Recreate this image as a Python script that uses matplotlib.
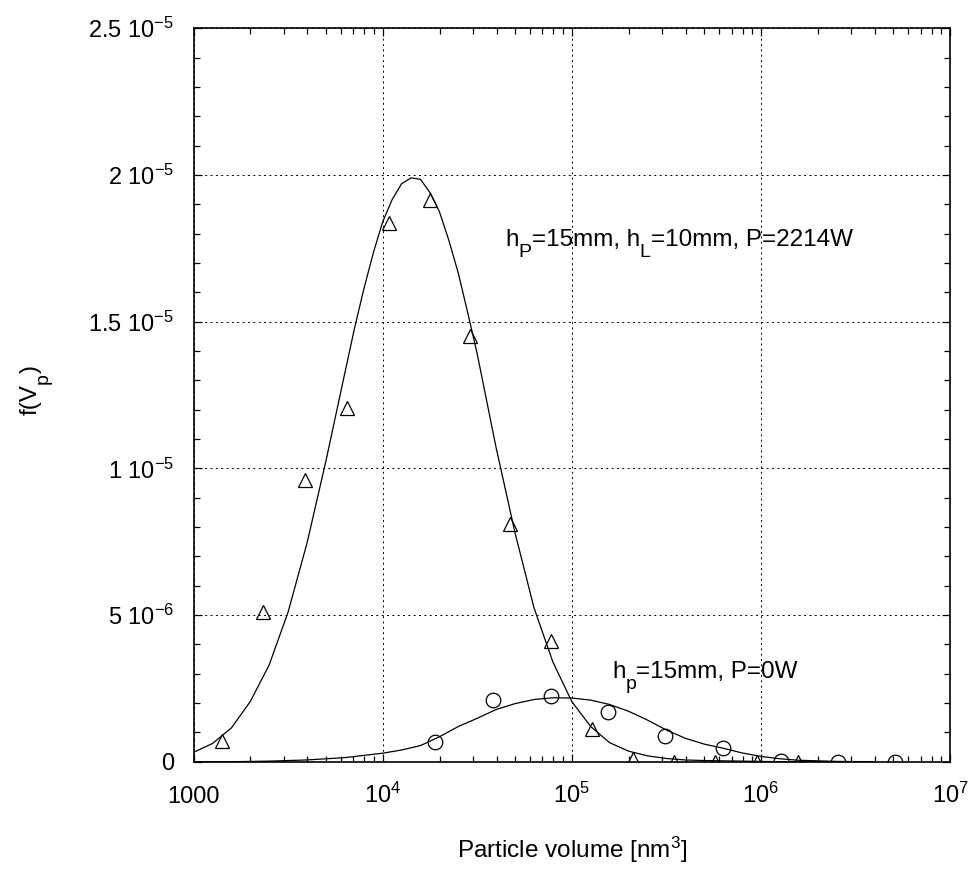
import numpy as np
import matplotlib
matplotlib.use("Agg")
import matplotlib.pyplot as plt
from matplotlib.transforms import offset_copy
from matplotlib.ticker import FixedLocator, LogLocator, MultipleLocator, NullFormatter

plt.rcParams['font.family'] = ['Liberation Sans', 'DejaVu Sans']
plt.rcParams['mathtext.fontset'] = 'custom'
plt.rcParams['mathtext.rm'] = 'Liberation Sans'
plt.rcParams['mathtext.it'] = 'Liberation Sans:italic'
plt.rcParams['mathtext.default'] = 'regular'

# measured points, particle volume [nm^3] and f(Vp) in units of 1e-6
tri_x = [1410, 2320, 3890, 6470, 10740, 17700, 29000, 46900, 77600,
         128000, 210000, 345000, 575000, 950000, 1570000]
tri_y = [0.70, 5.09, 9.6, 12.04, 18.35, 19.15, 14.51, 8.1, 4.12,
         1.12, 0.08, 0.0, 0.0, 0.0, 0.0]

circ_x = [18970, 38300, 77600, 155600, 310000, 628000, 1270000, 2550000, 5100000]
circ_y = [0.68, 2.10, 2.25, 1.68, 0.88, 0.48, 0.03, 0.0, 0.0]

# fitted distribution, P=2214W
tri_fit_x = [1000, 1259, 1585, 1995, 2512, 3162, 3981, 5012, 6310, 7079, 7943,
             8913, 10000, 11220, 12590, 14130, 15850, 17780, 19950, 22390,
             25120, 28180, 31620, 35480, 39810, 50120, 63100, 79430,
             100000, 125900, 158500, 199500, 251200, 316200, 398100, 501200,
             631000, 794300, 1000000, 1259000, 1585000, 2512000, 3981000]
tri_fit = [0.32, 0.62, 1.15, 2.05, 3.3, 5.1, 7.45, 10.25, 13.25, 14.74, 16.1,
           17.33, 18.4, 19.16, 19.7, 19.9, 19.85, 19.4, 18.75, 17.77,
           16.65, 15.3, 13.9, 12.3, 10.7, 7.8, 5.25, 3.4,
           2.05, 1.2, 0.65, 0.36, 0.2, 0.11, 0.06, 0.04,
           0.03, 0.02, 0.01, 0.0, 0.0, 0.0, 0.0]

# fitted distribution, P=0W
circ_fit_x = [1000, 1585, 2512, 3981, 6310, 10000, 12590, 15850, 19950, 25120,
              31620, 39810, 50120, 63100, 79430, 100000, 125900, 158500, 199500,
              251200, 316200, 398100, 501200, 631000, 794300, 1000000,
              1259000, 1585000, 2512000, 3981000]
circ_fit = [0.0, 0.0, 0.02, 0.06, 0.14, 0.29, 0.4, 0.55, 0.85, 1.2,
            1.48, 1.78, 1.98, 2.12, 2.18, 2.17, 2.1, 1.95, 1.72,
            1.42, 1.08, 0.8, 0.6, 0.46, 0.3, 0.18,
            0.1, 0.05, 0.01, 0.0]

y_ticks = [0, 5e-6, 1e-5, 1.5e-5, 2e-5, 2.5e-5]
y_ticklabels = ['0', r'5 10$^{-6}$', r'1 10$^{-5}$', r'1.5 10$^{-5}$',
                r'2 10$^{-5}$', r'2.5 10$^{-5}$']
x_ticks = [1e3, 1e4, 1e5, 1e6, 1e7]
x_ticklabels = ['1000', r'10$^4$', r'10$^5$', r'10$^6$', r'10$^7$']

W, H = 974, 891
fig = plt.figure(figsize=(W / 100, H / 100), dpi=100)
ax = fig.add_axes([0.1987, 0.1451, 0.7767, 0.8232])
renderer = fig.canvas.get_renderer()

FS = 17.5


def rich_text(px, py, parts, rotation=0):
    """Write text pieces one after another; each piece is (string, size factor, baseline shift in em)."""
    pos = 0.0
    for s, rel, shift in parts:
        if rotation == 0:
            dx, dy = pos, shift * FS
        else:
            dx, dy = -shift * FS, pos
        tr = offset_copy(fig.transFigure, fig=fig, x=dx, y=dy, units='points')
        t = fig.text(px / W, 1 - py / H, s, fontsize=FS * rel, rotation=rotation,
                     rotation_mode='anchor', ha='left', va='baseline', transform=tr)
        bb = t.get_window_extent(renderer)
        pos += (bb.width if rotation == 0 else bb.height) * 72 / fig.dpi


scale = 1e-6
ax.plot(tri_fit_x, np.array(tri_fit) * scale, color='black', lw=0.9)
ax.plot(circ_fit_x, np.array(circ_fit) * scale, color='black', lw=0.9)
ax.plot(tri_x, np.array(tri_y) * scale, ls='none', marker='^', ms=10,
        mfc='none', mec='black', mew=0.9)
ax.plot(circ_x, np.array(circ_y) * scale, ls='none', marker='o', ms=10.5,
        mfc='none', mec='black', mew=0.9)

ax.set_xscale('log')
ax.set_xlim(1e3, 1e7)
ax.set_ylim(0, 2.5e-5)

ax.xaxis.set_major_locator(FixedLocator(x_ticks))
ax.xaxis.set_minor_locator(LogLocator(base=10, subs=np.arange(2, 10)))
ax.xaxis.set_minor_formatter(NullFormatter())
ax.set_xticklabels(x_ticklabels)
ax.yaxis.set_major_locator(FixedLocator(y_ticks))
ax.yaxis.set_minor_locator(MultipleLocator(1e-6))
ax.set_yticklabels(y_ticklabels)

ax.tick_params(which='both', direction='in', top=True, right=True,
               labelsize=17, width=0.9)
ax.tick_params(which='major', length=6)
ax.tick_params(which='minor', length=4.5)
ax.tick_params(axis='y', pad=14)
ax.tick_params(axis='x', pad=30)
for lab in ax.get_xticklabels():
    lab.set_va('baseline')

for sp in ax.spines.values():
    sp.set_linewidth(1.2)

ax.grid(True, which='major', color='black', ls=(0, (2, 3.5)), lw=0.7)

SUB = (0.8, -0.45)
rich_text(505, 246, [('h', 1, 0), ('P',) + SUB, ('=15mm, h', 1, 0), ('L',) + SUB,
                     ('=10mm, P=2214W', 1, 0)])
rich_text(612, 678, [('h', 1, 0), ('p',) + SUB, ('=15mm, P=0W', 1, 0)])

# axis titles
rich_text(37, 415, [('f(V', 1, 0), ('p',) + SUB, (')', 1, 0)], rotation=90)
fig.text(572 / W, 1 - 850 / H, r'Particle volume [nm$^3$]',
         ha='center', va='center', fontsize=FS)

fig.savefig('out.png', dpi=100)
